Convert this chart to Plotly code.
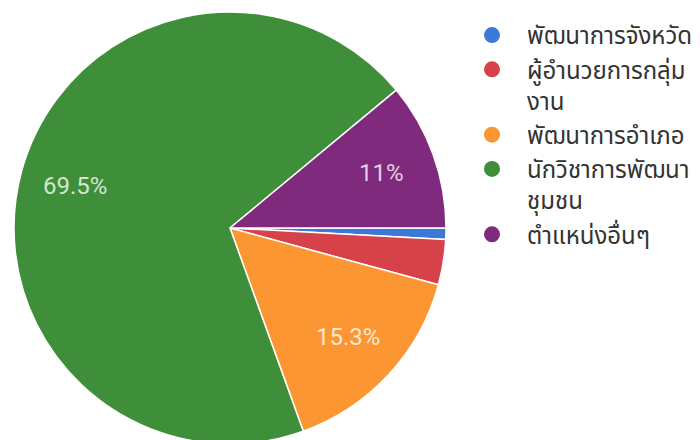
import math
import plotly.graph_objects as go

labels = ["พัฒนาการจังหวัด", "ผู้อำนวยการกลุ่ม<br>งาน", "พัฒนาการอำเภอ",
          "นักวิชาการพัฒนา<br>ชุมชน", "ตำแหน่งอื่นๆ"]
counts = [1, 4, 18, 82, 13]
colors = ["#3b78d8", "#d7424a", "#fb9633", "#3f8f3a", "#7f2a7c"]

W, H = 700, 440
CX, CY, R = 222, 220, 216      # pie centre / radius in figure pixels
ROT = 90                       # first slice starts at 3 o'clock

total = sum(counts)

fig = go.Figure()
fig.add_trace(go.Pie(
    values=counts,
    labels=labels,
    textinfo="none",
    marker=dict(colors=colors, line=dict(color="white", width=1.5)),
    sort=False,
    direction="clockwise",
    rotation=ROT,
    showlegend=False,
    hoverinfo="skip",
    domain=dict(x=[(CX - R) / W, (CX + R) / W], y=[1 - (CY + R) / H, 1 - (CY - R) / H]),
))

# percentage labels along each slice bisector (derived from the data)
cum = 0
for c in counts:
    p = round(c / total * 100, 1)
    mid = ROT + (cum + c / 2) / total * 360
    cum += c
    if p < 5:
        continue
    a = math.radians(mid)
    px = CX + 0.745 * R * math.sin(a)
    py = CY - 0.745 * R * math.cos(a)
    fig.add_annotation(
        x=px / W, y=1 - py / H, xref="paper", yref="paper",
        xanchor="center", yanchor="middle",
        text=f"{p:g}%", showarrow=False,
        font=dict(family="Roboto", size=24, color="rgba(255,255,255,0.78)"),
    )

for i, (lab, col) in enumerate(zip(labels, colors)):
    fig.add_trace(go.Scatter(
        x=[None], y=[None], mode="markers", name=lab,
        marker=dict(color=col, size=16, symbol="circle"),
        showlegend=True,
    ))

fig.update_layout(
    width=W, height=H,
    margin=dict(l=0, r=0, t=0, b=0),
    paper_bgcolor="white", plot_bgcolor="white",
    xaxis=dict(visible=False), yaxis=dict(visible=False),
    legend=dict(
        x=449 / W, xanchor="left", y=1 - 5 / H, yanchor="top",
        font=dict(family="Noto Sans Thai, Tahoma, Noto Sans, sans-serif", size=24, color="#333333"),
        itemsizing="trace", itemwidth=60, valign="top", bgcolor="rgba(0,0,0,0)",
    ),
)

fig.write_html("out.html")
